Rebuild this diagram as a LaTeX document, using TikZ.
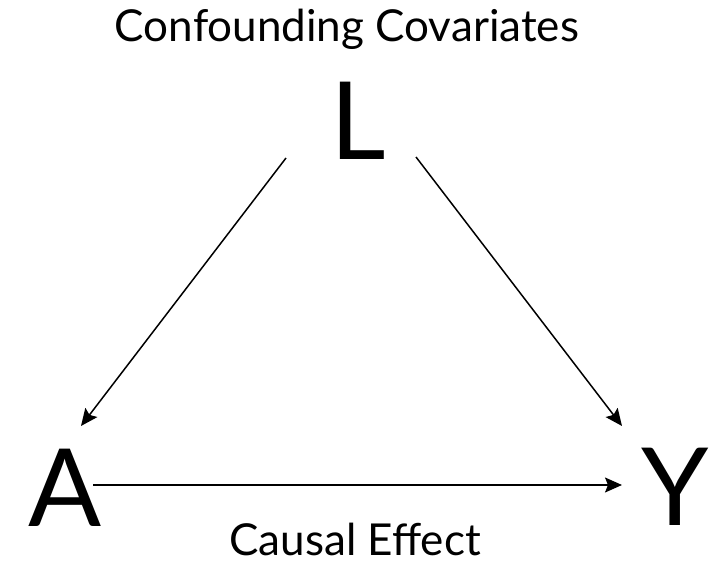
\documentclass[tikz,border=0pt]{standalone}
\usepackage{fontspec}
\setmainfont{Lato}
\usetikzlibrary{arrows.meta}
\definecolor{jet}{HTML}{000000}

\begin{document}
\begin{tikzpicture}[x=1pt, y=1pt,
    every node/.style={inner sep=0pt, anchor=base, color=jet},
    var/.style={font=\fontsize{108}{110}\selectfont},
    caption/.style={font=\fontsize{44}{52}\selectfont},
    edge/.style={line width=1.5pt, color=jet, -{Stealth[length=17pt, width=15pt, inset=3pt]}}]
  \useasboundingbox (0,0) rectangle (715,568);
  \node[caption] (top) at (347,526) {Confounding Covariates};
  \node[var] (L) at (358,408) {L};
  \node[var] (A) at (65,42) {A};
  \node[var] (Y) at (675,43) {Y};
  \node[caption] (bottom) at (355,13) {Causal Effect};
  \draw[edge] ([shift={(-72,2)}]L.base) -- ([shift={(16,100)}]A.base);
  \draw[edge] ([shift={(58,3)}]L.base) -- ([shift={(-53,99)}]Y.base);
  \draw[edge] ([shift={(28,41)}]A.base) -- ([shift={(-53,40)}]Y.base);
\end{tikzpicture}
\end{document}
